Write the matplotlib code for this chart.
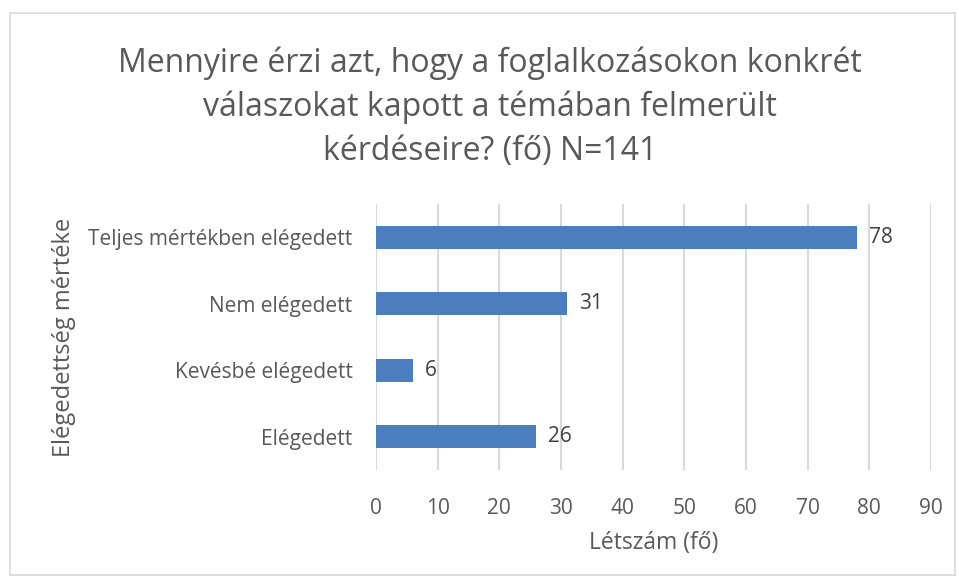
import matplotlib.pyplot as plt
from matplotlib.patches import Rectangle

# data (top to bottom)
categories = ["Teljes mértékben elégedett", "Nem elégedett", "Kevésbé elégedett", "Elégedett"]
counts = [78, 31, 6, 26]
xticks = [0, 10, 20, 30, 40, 50, 60, 70, 80, 90]

plt.rcParams['font.family'] = ['Open Sans', 'DejaVu Sans']
gray = '#595959'
blue = '#4A7EBF'

fig = plt.figure(figsize=(9.59, 5.80), dpi=100)
fig.patches.append(Rectangle((10/959, 1-575/580), 945/959, 562/580, transform=fig.transFigure,
                             fill=False, edgecolor='#D9D9D9', linewidth=1.2))
ax = fig.add_axes([376/959, 1-470/580, 555/959, 266/580])

ypos = list(range(len(categories)))[::-1]
ax.barh(ypos, counts, height=0.35, color=blue, zorder=3)
for y, v in zip(ypos, counts):
    ax.text(v + 1.9, y, str(v), va='center', ha='left', fontsize=15, color='#404040')

ax.set_xlim(0, 90)
ax.set_ylim(-0.5, len(categories) - 0.5)
ax.set_xticks(xticks)
ax.set_yticks(ypos)
ax.set_yticklabels(categories)
ax.tick_params(axis='both', length=0, labelsize=15, colors=gray)
ax.tick_params(axis='x', pad=20)
ax.tick_params(axis='y', pad=17)
ax.grid(axis='x', color='#D9D9D9', linewidth=1.5, zorder=0)
for s in ax.spines.values():
    s.set_visible(False)

ax.set_xlabel("Létszám (fő)", fontsize=16.5, color=gray, labelpad=9)
ax.set_ylabel("Elégedettség mértéke", fontsize=17, color=gray, labelpad=9)

fig.text(490/959, 1-107/580,
         "Mennyire érzi azt, hogy a foglalkozásokon konkrét\nválaszokat kapott a témában felmerült\nkérdéseire? (fő) N=141",
         ha='center', va='center', fontsize=23, color=gray, linespacing=1.42)

fig.savefig("out.png", dpi=100)
